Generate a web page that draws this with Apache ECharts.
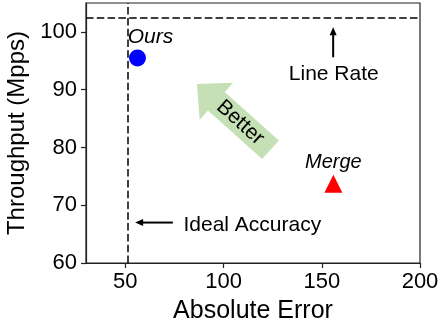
<!DOCTYPE html>
<html>
<head>
<meta charset="utf-8">
<script src="https://cdn.jsdelivr.net/npm/echarts@6/dist/echarts.min.js"></script>
<style>
  html, body { margin: 0; padding: 0; background: #fff; }
  #chart { width: 440px; height: 321px; }
</style>
</head>
<body>
<div id="chart"></div>
<script>
const FONT = '"Liberation Sans", Arial, Helvetica, sans-serif';

// Axis ticks
const xTicks = [50, 100, 150, 200];
const yTicks = [60, 70, 80, 90, 100];

// Measured points: absolute error vs. throughput
const methods = ['Ours', 'Merge'];
const absError = [56.2, 155.9];
const throughput = [95.5, 73.7];

// Reference lines
const lineRate = 102.4;      // Mpps
const idealError = 51.3;     // absolute error

// Annotation anchors (data space): [from, to]
const lineRateArrow = [[155.8, 95.6], [155.8, 100.8]];
const lineRateText = [156.1, 92.7];
const idealArrow = [[74.2, 67.0], [55.0, 67.0]];
const idealText = [79.6, 66.6];
const betterArrow = [[123.9, 79.6], [86.5, 91.0]];

const chart = echarts.init(document.getElementById('chart'));

chart.setOption({
  animation: false,
  backgroundColor: '#fff',
  grid: {
    left: 86, right: 20, top: 3, bottom: 58,
    show: true, borderColor: '#222', borderWidth: 1.2,
    outerBoundsMode: 'none', containLabel: false
  },
  xAxis: {
    type: 'value', min: 30, max: 200,
    name: 'Absolute Error', nameLocation: 'middle', nameGap: 36,
    nameTextStyle: { fontFamily: FONT, fontSize: 25, color: '#000' },
    axisLine: { show: true, lineStyle: { color: '#222', width: 1.2 } },
    axisTick: { show: true, inside: false, length: 5, customValues: xTicks, lineStyle: { color: '#222', width: 1.2 } },
    axisLabel: { customValues: xTicks, margin: 8, fontFamily: FONT, fontSize: 22, color: '#000' },
    splitLine: { show: false }
  },
  yAxis: {
    type: 'value', min: 60, max: 105,
    name: 'Throughput (Mpps)', nameLocation: 'middle', nameGap: 49,
    nameTextStyle: { fontFamily: FONT, fontSize: 24, color: '#000' },
    axisLine: { show: true, lineStyle: { color: '#222', width: 1.2 } },
    axisTick: { show: true, inside: false, length: 5, customValues: yTicks, lineStyle: { color: '#222', width: 1.2 } },
    axisLabel: { customValues: yTicks, margin: 9, fontFamily: FONT, fontSize: 22, color: '#000' },
    splitLine: { show: false }
  },
  series: [
    {
      name: methods[0], type: 'scatter', symbol: 'circle', symbolSize: 17,
      itemStyle: { color: '#0000ff', opacity: 1 },
      data: [[absError[0], throughput[0]]],
      label: {
        show: true, formatter: methods[0], position: 'top', distance: 2, offset: [13, 0],
        fontFamily: FONT, fontSize: 21, fontStyle: 'italic', color: '#000', opacity: 1
      },
      markLine: {
        silent: true, symbol: 'none', label: { show: false },
        lineStyle: { color: '#000', type: [7.5, 3.3], width: 1.5, opacity: 1 },
        data: [{ yAxis: lineRate }, { xAxis: idealError }]
      },
      z: 3
    },
    {
      name: methods[1], type: 'scatter', symbol: 'triangle', symbolSize: 18,
      itemStyle: { color: '#ff0000', opacity: 1 },
      data: [[absError[1], throughput[1]]],
      label: {
        show: true, formatter: methods[1], position: 'top', distance: 2,
        fontFamily: FONT, fontSize: 20, fontStyle: 'italic', color: '#000', opacity: 1
      },
      z: 3
    }
  ]
});

// Annotations are placed through the chart's own coordinate system.
function px(p) { return chart.convertToPixel({ gridIndex: 0 }, p); }

function arrowHead(tip, from, len, halfW) {
  const dx = tip[0] - from[0], dy = tip[1] - from[1];
  const L = Math.hypot(dx, dy), ux = dx / L, uy = dy / L;
  const bx = tip[0] - ux * len, by = tip[1] - uy * len;
  return [tip, [bx - uy * halfW, by + ux * halfW], [bx + uy * halfW, by - ux * halfW]];
}

function thinArrow(a) {
  const p0 = px(a[0]), p1 = px(a[1]);
  const head = arrowHead(p1, p0, 8, 3.5);
  const dx = p1[0] - p0[0], dy = p1[1] - p0[1];
  const L = Math.hypot(dx, dy);
  const end = [p1[0] - dx / L * 6, p1[1] - dy / L * 6];
  return [
    { type: 'line', shape: { x1: p0[0], y1: p0[1], x2: end[0], y2: end[1] }, style: { stroke: '#000', lineWidth: 2 }, silent: true },
    { type: 'polygon', shape: { points: head }, style: { fill: '#000' }, silent: true }
  ];
}

function fatArrow(a) {
  const tail = px(a[0]), tip = px(a[1]);
  const dx = tip[0] - tail[0], dy = tip[1] - tail[1];
  const L = Math.hypot(dx, dy), ux = dx / L, uy = dy / L;
  const nx = -uy, ny = ux;
  const headLen = 26, headHalf = 25, shaftHalf = 12.5;
  const bx = tip[0] - ux * headLen, by = tip[1] - uy * headLen;
  const pts = [
    [tail[0] + nx * shaftHalf, tail[1] + ny * shaftHalf],
    [bx + nx * shaftHalf, by + ny * shaftHalf],
    [bx + nx * headHalf, by + ny * headHalf],
    tip,
    [bx - nx * headHalf, by - ny * headHalf],
    [bx - nx * shaftHalf, by - ny * shaftHalf],
    [tail[0] - nx * shaftHalf, tail[1] - ny * shaftHalf]
  ];
  const angle = Math.atan2(dy, dx);
  // text sits along the shaft, reading from head toward tail
  const tx = tip[0] - ux * 58, ty = tip[1] - uy * 58;
  return [
    { type: 'polygon', shape: { points: pts }, style: { fill: '#c5e0b4' }, silent: true },
    {
      type: 'text', x: tx, y: ty, rotation: -(angle + Math.PI),
      style: { text: 'Better', fontFamily: FONT, fontSize: 21, fill: '#000', align: 'center', verticalAlign: 'middle' },
      silent: true
    }
  ];
}

const lr = px(lineRateText), ia = px(idealText);
chart.setOption({
  graphic: [
    ...fatArrow(betterArrow),
    ...thinArrow(lineRateArrow),
    ...thinArrow(idealArrow),
    { type: 'text', x: lr[0], y: lr[1], style: { text: 'Line Rate', fontFamily: FONT, fontSize: 21, fill: '#000', align: 'center', verticalAlign: 'middle' }, silent: true },
    { type: 'text', x: ia[0], y: ia[1], style: { text: 'Ideal Accuracy', fontFamily: FONT, fontSize: 21, fill: '#000', align: 'left', verticalAlign: 'middle' }, silent: true }
  ]
});
</script>
</body>
</html>
